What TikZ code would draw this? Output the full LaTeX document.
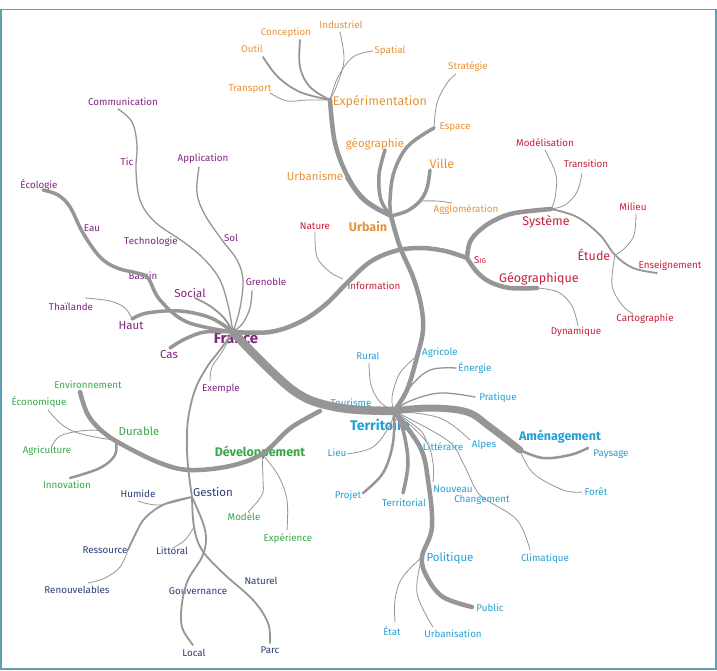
\documentclass[tikz,border=0pt]{standalone}
\usepackage{fontspec}
\setmainfont{Fira Sans}
\definecolor{orng}{RGB}{232,148,58}
\definecolor{purp}{RGB}{128,38,128}
\definecolor{redc}{RGB}{200,32,58}
\definecolor{cyn}{RGB}{38,160,212}
\definecolor{grn}{RGB}{58,168,72}
\definecolor{nvy}{RGB}{42,62,120}
\definecolor{lgray}{RGB}{150,150,150}
\definecolor{frm}{RGB}{95,160,175}
\tikzset{
  sm/.style={font=\fontsize{9.8}{11}\selectfont, inner sep=0pt},
  md/.style={font=\fontsize{11.5}{13}\selectfont, inner sep=0pt},
  bg/.style={font=\bfseries\fontsize{12.5}{14}\selectfont, inner sep=0pt},
  ln/.style={draw=lgray, line cap=round, line join=round},
  lwa/.style={ln, line width=0.8pt},
  lwb/.style={ln, line width=1.3pt},
  lwc/.style={ln, line width=1.8pt},
  lwd/.style={ln, line width=2.5pt},
  lwe/.style={ln, line width=3.5pt},
  lwf/.style={ln, line width=4.5pt},
  lwg/.style={ln, line width=7pt},
  lwh/.style={ln, line width=8.5pt},
  sp/.style={smooth, tension=0.6}
}
\begin{document}
\begin{tikzpicture}[x=1pt,y=-1pt]
\useasboundingbox (0,0) rectangle (717,671);
\fill[white] (0,0) rectangle (717,671);
\draw[frm, line width=1.2pt] (1,9.5) rectangle (716,669);

% ---------- hubs and end points ----------
\coordinate (hE) at (330,100);
\coordinate (hU) at (391,216);
\coordinate (hF) at (233,332);
\coordinate (hT) at (394,411);
\coordinate (hS) at (467,258);
\coordinate (hSy) at (551,209);
\coordinate (hEt) at (615,255);
\coordinate (hG) at (537,288);
\coordinate (hV) at (420,201);
\coordinate (hDv) at (320,411);
\coordinate (hDu) at (116,440);
\coordinate (hDvp) at (262,454);
\coordinate (hGe) at (192,497);
\coordinate (hRes) at (128,550);
\coordinate (hLit) at (194,527);
\coordinate (hAm) at (520,450);
\coordinate (hPol) at (422,557);
\coordinate (hCh) at (485,499);
\coordinate (hHaut) at (132,319);

\coordinate (cTra) at (270,93);
\coordinate (cOut) at (263,57);
\coordinate (cCon) at (300,40);
\coordinate (cInd) at (340,32);
\coordinate (cSpa) at (373,51);
\coordinate (cGeo) at (385,150);
\coordinate (cEsp) at (434,128);
\coordinate (cVil) at (430,170);
\coordinate (cAgg) at (452,203);
\coordinate (cStr) at (456,74);
\coordinate (cUrb) at (346,178);
\coordinate (cEns) at (657,273);
\coordinate (cMod) at (545,150);
\coordinate (cTrn) at (582,173);
\coordinate (cMil) at (636,214);
\coordinate (cCar) at (633,314);
\coordinate (cDyn) at (578,326);
\coordinate (cNat) at (315,232);
\coordinate (cInf) at (343,279);
\coordinate (cCom) at (118,109);
\coordinate (cApp) at (199,167);
\coordinate (cEco) at (43,190);
\coordinate (cTha) at (85,298);
\coordinate (cCas) at (170,348);
\coordinate (cSoc) at (195,298);
\coordinate (cGre) at (252,291);
\coordinate (cExe) at (210,381);
\coordinate (cEnv) at (80,392);
\coordinate (cEcn) at (48,410);
\coordinate (cAgr) at (52,446);
\coordinate (cInn) at (70,478);
\coordinate (cMdl) at (248,512);
\coordinate (cExp) at (287,530);
\coordinate (cHum) at (138,501);
\coordinate (cRen) at (88,583);
\coordinate (cLit) at (173,548);
\coordinate (cPar) at (270,643);
\coordinate (cLoc) at (193,645);
\coordinate (cRur) at (369,363);
\coordinate (cAgc) at (418,355);
\coordinate (cEne) at (456,368);
\coordinate (cPra) at (475,397);
\coordinate (cPay) at (588,448);
\coordinate (cFor) at (582,492);
\coordinate (cAlp) at (470,440);
\coordinate (cLtt) at (427,443);
\coordinate (cLie) at (347,454);
\coordinate (cPro) at (363,493);
\coordinate (cTer) at (403,493);
\coordinate (cPub) at (472,607);
\coordinate (cNou) at (433,482);
\coordinate (cCli) at (530,550);
\coordinate (cEta) at (395,622);
\coordinate (cUbn) at (433,627);

% ---------- labels ----------
\begin{scope}[orng]
\node[sm] (nInd) at (341,25) {Industriel};
\node[sm] (nCon) at (286,33) {Conception};
\node[sm] (nSpa) at (390,51) {Spatial};
\node[sm] (nOut) at (252,49) {Outil};
\node[sm] (nStr) at (468,67) {Stratégie};
\node[sm] (nTra) at (250,89) {Transport};
\node[md, font=\fontsize{12.5}{14}\selectfont] (nExp) at (380,102) {Expérimentation};
\node[sm] (nEsp) at (455,127) {Espace};
\node[md] (nGeo) at (375,144) {géographie};
\node[md, font=\fontsize{12.5}{14}\selectfont] (nVil) at (442,164) {Ville};
\node[md] (nUrb) at (315,176) {Urbanisme};
\node[sm] (nAgg) at (466,210) {Agglomération};
\node[bg] (nUrbain) at (368,227) {Urbain};
\end{scope}
\begin{scope}[redc]
\node[sm] (nNat) at (315,226) {Nature};
\node[sm] (nInf) at (374,286) {Information};
\node[sm] (nSig) at (480,260) {S{\fontsize{7}{8}\selectfont IG}};
\node[sm] (nMod) at (545,143) {Modélisation};
\node[sm] (nTrn) at (586,164) {Transition};
\node[md, font=\fontsize{12.5}{14}\selectfont] (nSys) at (546,222) {Système};
\node[sm] (nMil) at (633,207) {Milieu};
\node[md, font=\fontsize{12.5}{14}\selectfont] (nEtu) at (594,255) {Étude};
\node[sm] (nEns) at (670,266) {Enseignement};
\node[md, font=\fontsize{12.5}{14}\selectfont] (nGeog) at (539,279) {Géographique};
\node[sm] (nCar) at (645,319) {Cartographie};
\node[sm] (nDyn) at (576,332) {Dynamique};
\end{scope}
\begin{scope}[purp]
\node[sm] (nCom) at (123,102) {Communication};
\node[sm] (nTic) at (127,162) {Tic};
\node[sm] (nApp) at (203,159) {Application};
\node[sm] (nEco) at (39,185) {Écologie};
\node[sm] (nEau) at (92,228) {Eau};
\node[sm] (nTec) at (151,242) {Technologie};
\node[sm] (nSol) at (231,238) {Sol};
\node[sm] (nBas) at (143,276) {Bassin};
\node[md] (nSoc) at (190,293) {Social};
\node[sm] (nGre) at (266,282) {Grenoble};
\node[sm] (nTha) at (71,307) {Thaïlande};
\node[md] (nHau) at (131,326) {Haut};
\node[bg, font=\bfseries\fontsize{15}{17}\selectfont] (nFra) at (236,338) {France};
\node[md] (nCas) at (169,355) {Cas};
\node[sm] (nExe) at (221,389) {Exemple};
\end{scope}
\begin{scope}[grn]
\node[sm] (nEnv) at (88,385) {Environnement};
\node[sm] (nEcn) at (39,402) {Économique};
\node[md] (nDur) at (139,431) {Durable};
\node[sm] (nAgr) at (47,451) {Agriculture};
\node[bg] (nDev) at (260,453) {Développement};
\node[sm] (nInn) at (67,485) {Innovation};
\node[sm] (nMdl) at (244,517) {Modèle};
\node[sm] (nExp2) at (288,539) {Expérience};
\end{scope}
\begin{scope}[nvy]
\node[sm] (nHum) at (138,494) {Humide};
\node[md] (nGes) at (213,492) {Gestion};
\node[sm] (nRes) at (105,550) {Ressource};
\node[sm] (nLit) at (172,551) {Littoral};
\node[sm] (nRen) at (77,590) {Renouvelables};
\node[sm] (nGou) at (198,591) {Gouvernance};
\node[sm] (nNatu) at (261,581) {Naturel};
\node[sm] (nLoc) at (194,653) {Local};
\node[sm] (nPar) at (270,650) {Parc};
\end{scope}
\begin{scope}[cyn]
\node[sm] (nRur) at (368,356) {Rural};
\node[sm] (nAgc) at (440,353) {Agricole};
\node[sm] (nEne) at (475,368) {Énergie};
\node[sm] (nPra) at (498,398) {Pratique};
\node[sm] (nTou) at (351,403) {Tourisme};
\node[bg, font=\bfseries\fontsize{14}{16}\selectfont] (nTerr) at (380,425) {Territoire};
\node[bg] (nAme) at (560,437) {Aménagement};
\node[sm] (nPay) at (611,454) {Paysage};
\node[sm] (nLie) at (337,453) {Lieu};
\node[sm] (nLtt) at (443,447) {Littéraire};
\node[sm] (nAlp) at (484,445) {Alpes};
\node[sm] (nFor) at (596,492) {Forêt};
\node[sm] (nPro) at (348,496) {Projet};
\node[sm] (nTer) at (404,503) {Territorial};
\node[sm] (nNou) at (453,489) {Nouveau};
\node[sm] (nCha) at (482,500) {Changement};
\node[md] (nPol) at (450,558) {Politique};
\node[sm] (nCli) at (545,559) {Climatique};
\node[sm] (nPub) at (490,608) {Public};
\node[sm] (nEta) at (392,631) {État};
\node[sm] (nUbn) at (453,634) {Urbanisation};
\end{scope}

% ---------- connectors ----------
% orange
\draw[lwa] plot[sp] coordinates {(cTra) (287,101) (307,100) (hE)};
\draw[lwc] plot[sp] coordinates {(cOut) (278,77) (300,92) (hE)};
\draw[lwc] plot[sp] coordinates {(cCon) (300,67) (310,87) (hE)};
\draw[lwa] plot[sp] coordinates {(cInd) (344,60) (337,85) (hE)};
\draw[lwa] plot[sp] coordinates {(cSpa) (353,57) (338,77) (hE)};
\draw[lwf] plot[sp] coordinates {(hE) (335,143) (348,177) (365,200) (hU)};
\draw[lwc] plot[sp] coordinates {(cUrb) (360,198) (378,211) (hU)};
\draw[lwe] plot[sp] coordinates {(cGeo) (379,175) (381,200) (hU)};
\draw[lwe] plot[sp] coordinates {(cEsp) (408,146) (394,172) (390,200) (hU)};
\draw[lwe] plot[sp] coordinates {(cVil) (427,188) (hV) (407,211) (hU)};
\draw[lwa] plot[sp] coordinates {(hV) (437,201) (cAgg)};
\draw[lwa] plot[sp] coordinates {(cEsp) (437,103) (447,83) (cStr)};
% red
\draw[lwf] plot[sp] coordinates {(hU) (400,247) (413,277) (421,305) (423,330) (417,357) (407,390) (hT)};
\draw[lwf] plot[sp] coordinates {(hF) (270,332) (300,322) (325,305) (347,283) (370,262) (395,251) (420,248) (445,251) (hS)};
\draw[lwf] plot[sp] coordinates {(hS) (470,242) (480,230) (495,220) (515,213) (hSy)};
\draw[lwc] plot[sp] coordinates {(hSy) (577,217) (600,235) (hEt) (633,268) (cEns)};
\draw[lwa] plot[sp] coordinates {(cMod) (556,175) (555,198) (hSy)};
\draw[lwa] plot[sp] coordinates {(cTrn) (577,192) (565,205) (hSy)};
\draw[lwa] plot[sp] coordinates {(cMil) (634,235) (625,248) (hEt)};
\draw[lwa] plot[sp] coordinates {(hEt) (612,285) (622,305) (cCar)};
\draw[lwf] plot[sp] coordinates {(hS) (477,272) (490,282) (510,288) (hG)};
\draw[lwa] plot[sp] coordinates {(hG) (558,292) (572,306) (cDyn)};
\draw[lwa] plot[sp] coordinates {(cNat) (317,257) (330,272) (cInf)};
% purple
\draw[lwb] plot[sp] coordinates {(cCom) (132,122) (137,145) (136,170) (140,200) (155,222) (185,243) (205,260) (220,280) (228,305) (hF)};
\draw[lwb] plot[sp] coordinates {(cApp) (197,193) (205,215) (222,240) (237,260) (243,280) (240,308) (hF)};
\draw[lwe] plot[sp] coordinates {(cEco) (58,195) (70,207) (83,233) (100,257) (117,268) (137,273) (148,278) (160,300) (187,322) (hF)};
\draw[lwe] plot[sp] coordinates {(hHaut) (147,313) (180,311) (211,318) (hF)};
\draw[lwa] plot[sp] coordinates {(cTha) (110,301) (125,308) (hHaut)};
\draw[lwe] plot[sp] coordinates {(cCas) (185,339) (205,332) (hF)};
\draw[lwc] plot[sp] coordinates {(cSoc) (210,306) (224,318) (hF)};
\draw[lwb] plot[sp] coordinates {(cGre) (250,308) (243,323) (hF)};
\draw[lwa] plot[sp] coordinates {(hF) (222,352) (212,367) (cExe)};
\draw[lwc] plot[sp] coordinates {(hF) (220,350) (207,367) (195,390) (188,420) (187,450) (189,475) (hGe)};
\draw[lwh] plot[sp] coordinates {(hF) (250,350) (267,367) (290,388) (310,400) (335,407) (360,410) (hT)};
% green
\draw[lwf] plot[sp] coordinates {(hDv) (300,422) (287,431) (hDvp) (230,466) (190,470) (160,463) (123,445) (103,432) (88,415) (cEnv)};
\draw[lwa] plot[sp] coordinates {(cEcn) (60,423) (75,432) (100,438) (hDu)};
\draw[lwa] plot[sp] coordinates {(cAgr) (60,436) (80,431) (100,431) (hDu)};
\draw[lwd] plot[sp] coordinates {(cInn) (100,468) (115,455) (hDu)};
\draw[lwa] plot[sp] coordinates {(hDvp) (263,480) (262,495) (cMdl)};
\draw[lwa] plot[sp] coordinates {(hDvp) (278,475) (287,500) (cExp)};
% navy
\draw[lwa] plot[sp] coordinates {(cHum) (160,505) (hGe)};
\draw[lwc] plot[sp] coordinates {(hGe) (165,504) (145,518) (135,535) (hRes)};
\draw[lwa] plot[sp] coordinates {(hRes) (120,567) (105,578) (cRen)};
\draw[lwa] plot[sp] coordinates {(hLit) (185,540) (cLit)};
\draw[lwc] plot[sp] coordinates {(hGe) (hLit) (202,550) (223,573) (253,600) (268,623) (cPar)};
\draw[lwc] plot[sp] coordinates {(hGe) (203,523) (206,540) (202,557) (188,580) (182,603) (182,627) (cLoc)};
% cyan
\draw[lwa] plot[sp] coordinates {(cRur) (371,385) (380,402) (hT)};
\draw[lwa] plot[sp] coordinates {(cAgc) (400,373) (392,397) (hT)};
\draw[lwb] plot[sp] coordinates {(cEne) (430,370) (410,387) (hT)};
\draw[lwb] plot[sp] coordinates {(cPra) (440,393) (410,401) (hT)};
\draw[lwg] plot[sp] coordinates {(hT) (430,408) (467,412) (490,427) (hAm)};
\draw[lwd] plot[sp] coordinates {(hAm) (543,458) (570,455) (cPay)};
\draw[lwa] plot[sp] coordinates {(hAm) (533,473) (563,490) (cFor)};
\draw[lwa] plot[sp] coordinates {(hT) (440,418) (cAlp)};
\draw[lwa] plot[sp] coordinates {(hT) (420,430) (cLtt)};
\draw[lwa] plot[sp] coordinates {(cLie) (373,447) (390,425) (hT)};
\draw[lwd] plot[sp] coordinates {(cPro) (383,473) (393,443) (hT)};
\draw[lwe] plot[sp] coordinates {(cTer) (408,463) (403,430) (hT)};
\draw[lwf] plot[sp] coordinates {(hT) (420,447) (428,480) (432,527) (hPol) (427,577) (443,597) (cPub)};
\draw[lwa] plot[sp] coordinates {(hT) (425,440) (433,463) (cNou)};
\draw[lwa] plot[sp] coordinates {(hT) (447,440) (463,463) (475,488) (hCh) (517,520) (cCli)};
\draw[lwa] plot[sp] coordinates {(hPol) (402,578) (395,600) (cEta)};
\draw[lwa] plot[sp] coordinates {(hPol) (417,593) (cUbn)};
\end{tikzpicture}
\end{document}
